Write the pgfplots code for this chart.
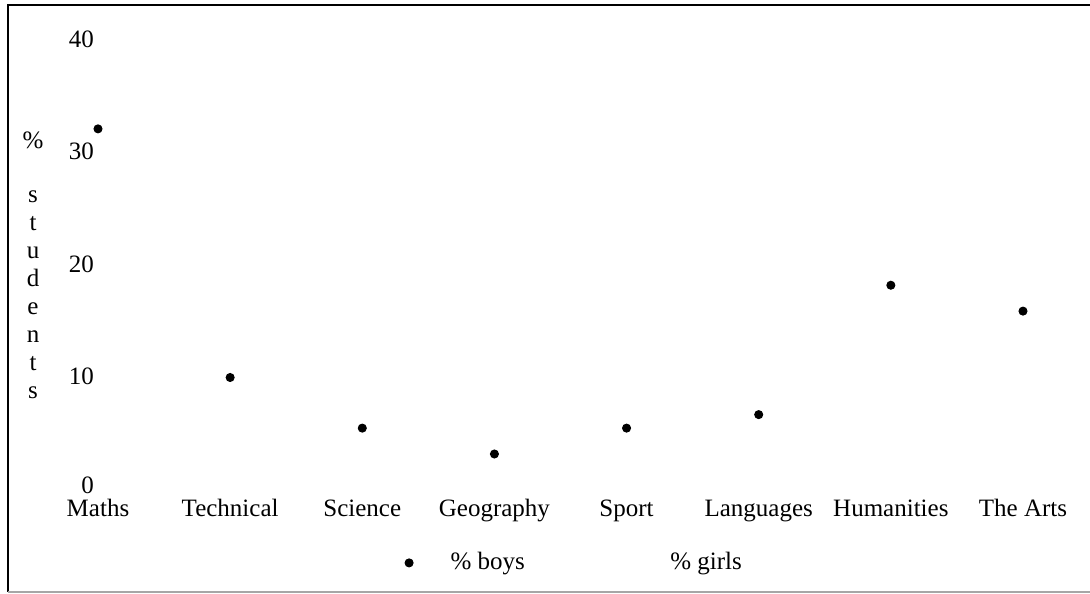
\documentclass[border=0pt]{standalone}
\usepackage{pgfplots}
\pgfplotsset{compat=1.18}
\usepackage{fontspec}
\setmainfont{Liberation Serif}
\begin{document}
\begin{tikzpicture}
\def\px{0.4pt}
\useasboundingbox (0,0) rectangle (436pt,-237.6pt);
% frame
\draw[line width=0.7pt] (8*\px,-592*\px) -- (8*\px,-5*\px) -- (1090*\px,-5*\px);
\draw[line width=0.7pt, gray!70] (8*\px,-592*\px) -- (1090*\px,-592*\px);
% y label
\node[font=\fontsize{10}{12}\selectfont] at (33*\px,-140*\px) {\%};
\node[align=center, font=\fontsize{10}{11.2}\selectfont, inner sep=0pt] at (33*\px,-295*\px) {s\\t\\u\\d\\e\\n\\t\\s};
\begin{axis}[
  at={(98*\px,-490*\px)}, anchor=south west,
  scale only axis, width=370pt, height=180pt,
  xmin=0, xmax=7, ymin=0, ymax=40,
  clip=false,
  axis line style={draw=none},
  major tick length=0pt,
  xtick={0,...,7},
  xticklabels={Maths,Technical,Science,Geography,Sport,Languages,Humanities,The Arts},
  ytick={10,20,30,40},
  extra y ticks={0},
  extra y tick style={yticklabel style={yshift=1.4pt}},
  /pgf/number format/assume math mode=true,
  tick label style={font=\fontsize{10}{12}\selectfont},
  yticklabel style={inner xsep=1.4pt, inner ysep=0pt, yshift=0.3pt},
  xticklabel style={anchor=base, inner ysep=0pt, yshift=-10.8pt},
  legend style={draw=none, fill=none, legend columns=2, inner sep=0pt, outer sep=0pt,
    at={(axis description cs:0.332,-0.162)}, anchor=west,
    font=\fontsize{10}{12}\selectfont,
    /tikz/every odd column/.append style={column sep=13pt},
    /tikz/every even column/.append style={column sep=38pt}},
  legend image code/.code={\draw[#1] plot coordinates {(0pt,0pt)};},
]
\addplot[only marks, mark=*, mark size=1.6pt, black] coordinates {
  (0,32.1) (1,10.0) (2,5.5) (3,3.2) (4,5.5) (5,6.7) (6,18.2) (7,15.9)
};
\addlegendentry{\% boys}
\addplot[only marks, mark=*, mark size=1.6pt, draw=white, fill=white] coordinates {(0,-100)};
\addlegendentry{\% girls}
\end{axis}
\end{tikzpicture}
\end{document}
